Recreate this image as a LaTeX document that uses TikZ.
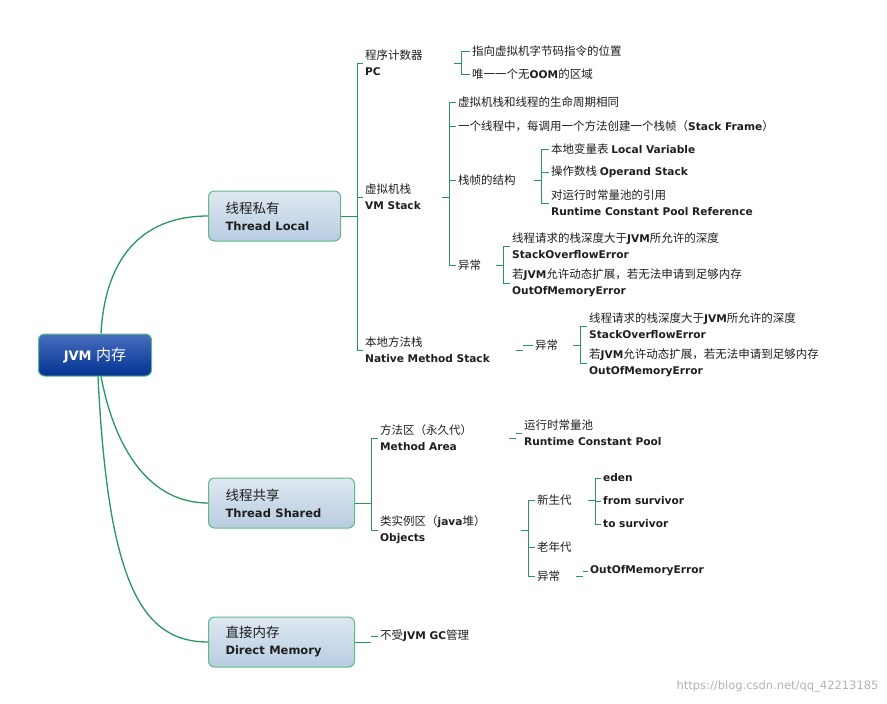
\documentclass[tikz,border=0pt]{standalone}
\usepackage{fontspec}
\setmainfont{Noto Sans CJK SC}
\newfontfamily\lat{DejaVu Sans}
\newcommand\B[1]{{\lat\bfseries\fontsize{10.6}{16}\selectfont #1}}
\definecolor{brc}{RGB}{40,150,95}
\definecolor{bxt}{RGB}{222,232,242}
\definecolor{bxb}{RGB}{184,204,224}
\definecolor{bxd}{RGB}{95,185,140}
\definecolor{rtt}{RGB}{73,110,190}
\definecolor{rtb}{RGB}{0,50,145}
\definecolor{txt}{RGB}{30,30,30}
\newcommand\mybrk[5]{%
 \draw[br] ([xshift=-7pt]#1,0 |- #2.east) -- (#1,0 |- #2.east);
 \draw[br] (#1,0 |- #3.west) -- (#1,0 |- #4.west);
 \foreach \c in {#5}{\draw[br] (#1,0 |- \c.west) -- (\c.west);}}
\begin{document}
\begin{tikzpicture}[x=1pt,y=-1pt,
 br/.style={draw=brc,line width=0.8pt},
 conn/.style={draw=brc,line width=1.3pt},
 lab/.style={anchor=west,align=left,inner sep=2pt,text=txt,font=\fontsize{11.5}{16}\selectfont},
 box/.style={anchor=west,align=left,rounded corners=6pt,draw=bxd,line width=1pt,top color=bxt,bottom color=bxb,inner xsep=17pt,minimum height=50pt,text=txt,font=\fontsize{13.5}{17}\selectfont}]
\useasboundingbox (0,0) rectangle (887,704);
% root
\node[anchor=west,rounded corners=6pt,draw=bxd,line width=1pt,top color=rtt,bottom color=rtb,minimum width=113pt,minimum height=42pt,text=white] (root) at (38,355) {{\lat\bfseries\fontsize{13}{14}\selectfont JVM}\ \ {\fontsize{15}{15}\selectfont 内存}};
\node[box,text width=98pt] (tl) at (208,216) {线程私有\\{\lat\bfseries\fontsize{11.5}{17}\selectfont Thread Local}};
\node[box,text width=112pt] (ts) at (208,503) {线程共享\\{\lat\bfseries\fontsize{11.5}{17}\selectfont Thread Shared}};
\node[box,text width=112pt] (dm) at (208,642) {直接内存\\{\lat\bfseries\fontsize{11.5}{17}\selectfont Direct Memory}};
\draw[conn] ([xshift=6pt]root.north) .. controls (105,260) and (140,216) .. (tl.west);
\draw[conn] ([xshift=6pt]root.south) .. controls (115,450) and (150,503) .. (ts.west);
\draw[conn] ([xshift=3pt]root.south) .. controls (108,580) and (140,642) .. (dm.west);
\draw[br] (tl.east) -- (350,216);
\draw[br] (ts.east) -- (364,503);
\draw[br] (dm.east) -- (364,642);
% thread local
\node[lab] (pc) at (363,63) {程序计数器\\\B{PC}};
\node[lab] (vm) at (363,197) {虚拟机栈\\\B{VM Stack}};
\node[lab] (nm) at (363,350) {本地方法栈\\\B{Native Method Stack}};
\mybrk{357}{tl}{pc}{nm}{pc,vm,nm}
\node[lab] (pc1) at (470,51) {指向虚拟机字节码指令的位置};
\node[lab] (pc2) at (470,74) {唯一一个无\B{OOM}的区域};
\mybrk{461}{pc}{pc1}{pc2}{pc1,pc2}
\node[lab] (v1) at (456,102) {虚拟机栈和线程的生命周期相同};
\node[lab] (v2) at (456,126) {一个线程中，每调用一个方法创建一个栈帧（\B{Stack Frame}）};
\node[lab] (v3) at (456,180) {栈帧的结构};
\node[lab] (v4) at (456,265) {异常};
\mybrk{449}{vm}{v1}{v4}{v1,v2,v3,v4}
\node[lab] (f1) at (549,149) {本地变量表 \B{Local Variable}};
\node[lab] (f2) at (549,172) {操作数栈 \B{Operand Stack}};
\node[lab] (f3) at (549,203) {对运行时常量池的引用\\\B{Runtime Constant Pool Reference}};
\mybrk{541}{v3}{f1}{f3}{f1,f2,f3}
\node[lab] (e1) at (510,246) {线程请求的栈深度大于\B{JVM}所允许的深度\\\B{StackOverflowError}};
\node[lab] (e2) at (510,283) {若\B{JVM}允许动态扩展，若无法申请到足够内存\\\B{OutOfMemoryError}};
\mybrk{503}{v4}{e1}{e2}{e1,e2}
\node[lab] (n1) at (533,345) {异常};
\mybrk{523}{nm}{n1}{n1}{n1}
\node[lab] (n2) at (587,326) {线程请求的栈深度大于\B{JVM}所允许的深度\\\B{StackOverflowError}};
\node[lab] (n3) at (587,363) {若\B{JVM}允许动态扩展，若无法申请到足够内存\\\B{OutOfMemoryError}};
\mybrk{580}{n1}{n2}{n3}{n2,n3}
% thread shared
\node[lab] (ma) at (378,438) {方法区（永久代）\\\B{Method Area}};
\node[lab] (ob) at (378,530) {类实例区（\B{java}堆）\\\B{Objects}};
\mybrk{371}{ts}{ma}{ob}{ma,ob}
\node[lab] (rc) at (522,433) {运行时常量池\\\B{Runtime Constant Pool}};
\mybrk{516}{ma}{rc}{rc}{rc}
\node[lab] (o1) at (535,500) {新生代};
\node[lab] (o2) at (535,547) {老年代};
\node[lab] (o3) at (535,576) {异常};
\mybrk{528}{ob}{o1}{o3}{o1,o2,o3}
\node[lab] (y1) at (601,478) {\B{eden}};
\node[lab] (y2) at (601,501) {\B{from survivor}};
\node[lab] (y3) at (601,524) {\B{to survivor}};
\mybrk{595}{o1}{y1}{y3}{y1,y2,y3}
\node[lab] (x1) at (588,571) {\B{OutOfMemoryError}};
\mybrk{583}{o3}{x1}{x1}{x1}
% direct
\node[lab] (d1) at (378,636) {不受\B{JVM GC}管理};
\mybrk{371}{dm}{d1}{d1}{d1}
\node[anchor=east,text=black!30,font=\lat\fontsize{11.5}{14}\selectfont] (wm) at (882,686) {https://blog.csdn.net/qq\_42213185};
\end{tikzpicture}
\end{document}
